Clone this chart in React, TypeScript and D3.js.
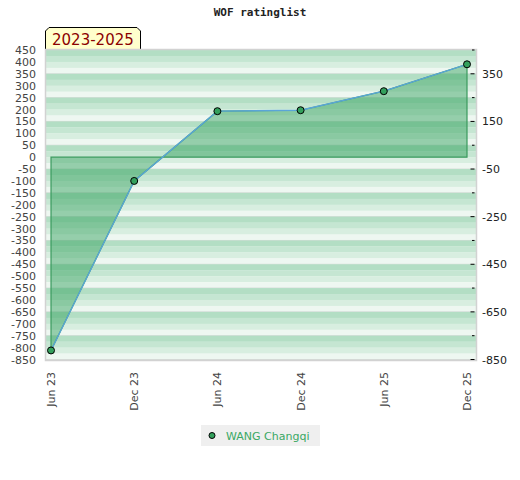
import React from 'react'
import * as d3 from 'd3'

const periods = ['Jun 23', 'Dec 23', 'Jun 24', 'Dec 24', 'Jun 25', 'Dec 25']
const ratings = [-812, -100, 193, 197, 277, 390]
const leftTicks = d3.range(450, -851, -50)
const rightMajor = [350, 150, -50, -250, -450, -650, -850]
const rightMinor = [450, 250, 50, -150, -350, -550, -750]
const bandTops = d3.range(450, -850, -100)
const seriesName = 'WANG Changqi'
const titleText = 'WOF ratinglist'
const tabText = '2023-2025'

const W = 520
const H = 480
const plot = { left: 46, right: 476, top: 50, bottom: 360 }
const stripeColors = ['#b3dec4', '#c5e6d2', '#d8eee0', '#eef7f1']
const font = 'DejaVu Sans, Verdana, sans-serif'

export default function App() {
  const x = d3.scalePoint<string>().domain(periods).range([51, 467])
  const y = d3.scaleLinear().domain([-850, 450]).range([359.5, 50])

  const pts = periods.map((p, i) => [x(p) as number, y(ratings[i])] as [number, number])
  // polygon closed back to the zero line, like the original area fill
  const poly: [number, number][] = [[pts[0][0], y(0)], ...pts, [pts[pts.length - 1][0], y(0)]]
  const line = d3.line()
  const areaPath = line(poly) + 'Z'
  const linePath = line(pts) as string

  return (
    <svg width={W} height={H} style={{ position: 'absolute', left: 0, top: 0, background: '#fff' }}>
      <text x={W / 2} y={16} textAnchor="middle" fontFamily="DejaVu Sans Mono, monospace" fontWeight="bold" fontSize={11} fill="#222">
        {titleText}
      </text>

      {/* tab */}
      <path d="M45.5,50.5 L45.5,31 L49,27.5 L137,27.5 L140.5,31 L140.5,50.5 Z" fill="#ffffcc" stroke="#000" strokeWidth={1} />
      <text x={52} y={45} fontFamily={font} fontSize={15} fill="#8b0000">{tabText}</text>

      {/* background bands */}
      {bandTops.map(v => {
        const y0 = y(v)
        const y1 = y(v - 100)
        const h = (y1 - y0) / 4
        return (
          <g key={v}>
            {stripeColors.map((c, k) => (
              <rect key={k} x={plot.left} y={y0 + k * h} width={plot.right - plot.left} height={h + 0.2} fill={c} />
            ))}
            <line x1={plot.left} x2={plot.right} y1={y1} y2={y1} stroke="#d6dbd8" strokeWidth={1} />
          </g>
        )
      })}
      <rect x={plot.left - 0.5} y={plot.top - 0.5} width={plot.right - plot.left + 1} height={plot.bottom - plot.top + 1} fill="none" stroke="#d2d2d2" strokeWidth={1.5} />

      {/* area + line */}
      <path d={areaPath} fill="#34a05e" fillOpacity={0.48} stroke="#3a9a5e" strokeWidth={1.2} />
      <path d={linePath} fill="none" stroke="#5aa5d8" strokeWidth={1.3} />
      {pts.map((p, i) => (
        <circle key={i} cx={p[0]} cy={p[1]} r={3.5} fill="#33a05c" stroke="#000" strokeWidth={1} />
      ))}

      {/* left axis labels */}
      {leftTicks.map(v => (
        <text key={v} x={36} y={y(v) + 4} textAnchor="end" fontFamily={font} fontSize={11} fill="#444">
          {v}
        </text>
      ))}

      {/* right axis */}
      {rightMajor.map(v => (
        <g key={v}>
          <line x1={470.5} x2={474.5} y1={y(v)} y2={y(v)} stroke="#000" strokeWidth={1} />
          <text x={482} y={y(v) + 4} fontFamily={font} fontSize={11} fill="#222">{v}</text>
        </g>
      ))}
      {rightMinor.map(v => (
        <line key={v} x1={472} x2={474.5} y1={y(v)} y2={y(v)} stroke="#000" strokeWidth={1} />
      ))}

      {/* x labels */}
      {periods.map(p => (
        <text
          key={p}
          transform={`translate(${(x(p) as number) + 4},372) rotate(-90)`}
          textAnchor="end"
          fontFamily={font}
          fontSize={11}
          fill="#444"
        >
          {p}
        </text>
      ))}

      {/* legend */}
      <rect x={201} y={425} width={119} height={21} fill="#efefef" />
      <circle cx={212} cy={435.5} r={3} fill="#33a05c" stroke="#000" strokeWidth={1} />
      <text x={226} y={439.5} fontFamily={font} fontSize={11} fill="#3aa864">{seriesName}</text>
    </svg>
  )
}
